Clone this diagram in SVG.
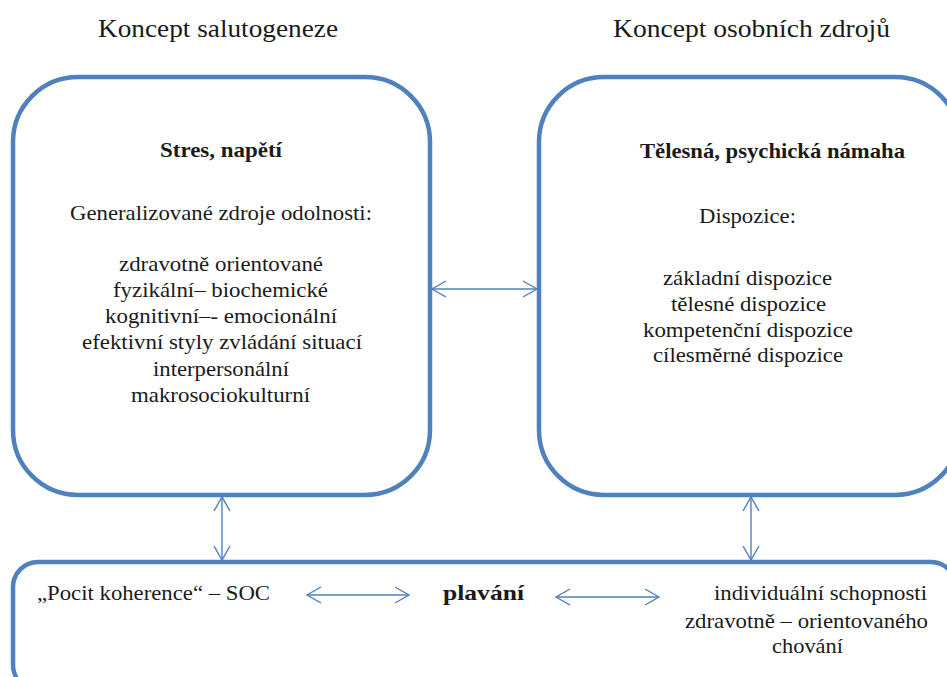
<svg xmlns="http://www.w3.org/2000/svg" width="947" height="677" viewBox="0 0 947 677">
<defs>
<style>
.box{fill:#ffffff;stroke:#4f81bd;stroke-width:4.5}
.t{font-family:'Liberation Serif','Times New Roman',serif;font-size:21px;fill:#1a1a1a}
.b{font-weight:bold}
.title{font-family:'Liberation Serif','Times New Roman',serif;font-size:25px;fill:#1a1a1a}
.c{stroke:#4f81bd;stroke-width:1.4;fill:none;marker-start:url(#ah);marker-end:url(#ah)}
</style>
<marker id="ah" markerUnits="userSpaceOnUse" markerWidth="18" markerHeight="20" refX="14" refY="9" orient="auto-start-reverse">
<path d="M0,1 L14,9 L0,17" fill="none" stroke="#4f81bd" stroke-width="1.4"/>
</marker>
</defs>
<rect width="947" height="677" fill="#ffffff"/>
<text class="title" x="98" y="37" textLength="240" lengthAdjust="spacingAndGlyphs">Koncept salutogeneze</text>
<text class="title" x="613" y="37" textLength="277" lengthAdjust="spacingAndGlyphs">Koncept osobních zdrojů</text>
<g id="salutogeneze">
<rect class="box" x="13" y="77" width="417" height="418" rx="65" ry="65"/>
<text class="t b" x="160" y="157" textLength="122" lengthAdjust="spacingAndGlyphs">Stres, napětí</text>
<text class="t" x="70" y="220" textLength="302" lengthAdjust="spacingAndGlyphs">Generalizované zdroje odolnosti:</text>
<text class="t" x="119" y="271" textLength="204" lengthAdjust="spacingAndGlyphs">zdravotně orientované</text>
<text class="t" x="113" y="297" textLength="215" lengthAdjust="spacingAndGlyphs">fyzikální– biochemické</text>
<text class="t" x="105" y="323" textLength="232" lengthAdjust="spacingAndGlyphs">kognitivní–- emocionální</text>
<text class="t" x="82" y="349" textLength="280" lengthAdjust="spacingAndGlyphs">efektivní styly zvládání situací</text>
<text class="t" x="153" y="376" textLength="136" lengthAdjust="spacingAndGlyphs">interpersonální</text>
<text class="t" x="131" y="402" textLength="179" lengthAdjust="spacingAndGlyphs">makrosociokulturní</text>
</g>
<g id="osobni-zdroje">
<rect class="box" x="539" y="77" width="421" height="418" rx="65" ry="65"/>
<text class="t b" x="640" y="158" textLength="265" lengthAdjust="spacingAndGlyphs">Tělesná, psychická námaha</text>
<text class="t" x="699" y="223" textLength="97" lengthAdjust="spacingAndGlyphs">Dispozice:</text>
<text class="t" x="663" y="285" textLength="169" lengthAdjust="spacingAndGlyphs">základní dispozice</text>
<text class="t" x="671" y="311" textLength="155" lengthAdjust="spacingAndGlyphs">tělesné dispozice</text>
<text class="t" x="643" y="337" textLength="210" lengthAdjust="spacingAndGlyphs">kompetenční dispozice</text>
<text class="t" x="653" y="362" textLength="190" lengthAdjust="spacingAndGlyphs">cílesměrné dispozice</text>
</g>
<g id="plavani">
<rect class="box" x="13" y="562" width="943" height="128" rx="25" ry="25"/>
<text class="t" x="37" y="600" textLength="233" lengthAdjust="spacingAndGlyphs">„Pocit koherence“ – SOC</text>
<text class="t b" x="443" y="600" textLength="81" lengthAdjust="spacingAndGlyphs">plavání</text>
<text class="t" x="714" y="600" textLength="213" lengthAdjust="spacingAndGlyphs">individuální schopnosti</text>
<text class="t" x="685" y="628" textLength="243" lengthAdjust="spacingAndGlyphs">zdravotně – orientovaného</text>
<text class="t" x="772" y="653" textLength="71" lengthAdjust="spacingAndGlyphs">chování</text>
</g>
<g id="connectors">
<line class="c" x1="432" y1="289" x2="537" y2="289"/>
<line class="c" x1="222" y1="497" x2="222" y2="560"/>
<line class="c" x1="751" y1="497" x2="751" y2="560"/>
<line class="c" x1="307" y1="595" x2="409" y2="595"/>
<line class="c" x1="556" y1="597" x2="659" y2="597"/>
</g>
</svg>
